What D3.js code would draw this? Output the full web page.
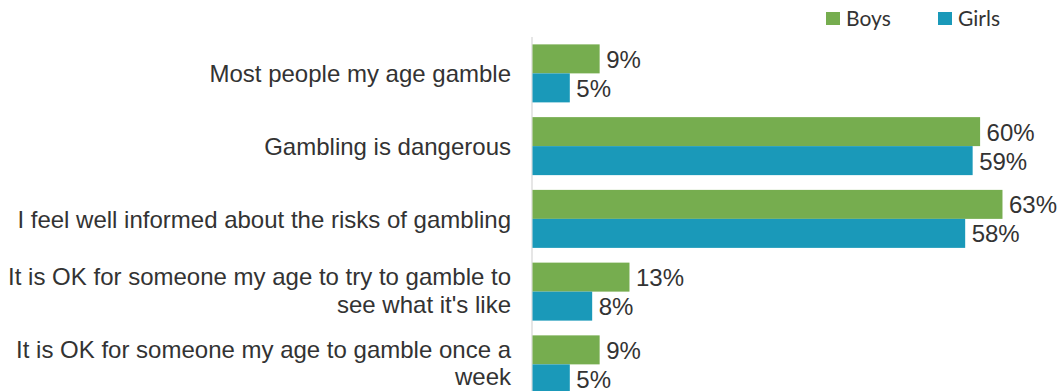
<!DOCTYPE html>
<html>
<head>
<meta charset="utf-8">
<script src="https://cdn.jsdelivr.net/npm/d3@7"></script>
<style>
  html, body { margin: 0; padding: 0; background: #fff; }
  svg { display: block; }
</style>
</head>
<body>
<svg id="chart" width="1061" height="391"></svg>
<script>
const categories = [
  "Most people my age gamble",
  "Gambling is dangerous",
  "I feel well informed about the risks of gambling",
  "It is OK for someone my age to try to gamble to see what it's like",
  "It is OK for someone my age to gamble once a week"
];
const seriesNames = ["Boys", "Girls"];
const boys = [9, 60, 63, 13, 9];
const girls = [5, 59, 58, 8, 5];
const colors = ["#76AD4F", "#1A99B9"];

const svg = d3.select("#chart");
const textColor = "#333333";
const font = "'Liberation Sans', Arial, sans-serif";

const x = d3.scaleLinear().domain([0, 70]).range([532, 532 + 70 * 7.46]);
const y = d3.scaleBand().domain(categories).range([37, 37 + 5 * 72.75])
  .paddingInner(0.2027).paddingOuter(0.1014);
const sub = d3.scaleBand().domain(seriesNames).range([0, y.bandwidth()]);

const series = [boys, girls];

// axis line
svg.append("line")
  .attr("x1", x(0)).attr("x2", x(0))
  .attr("y1", 37).attr("y2", 400)
  .attr("stroke", "#d9d9d9").attr("stroke-width", 1.3);

const groups = svg.selectAll("g.grp").data(categories).join("g")
  .attr("class", "grp")
  .attr("transform", d => `translate(0,${y(d)})`);

seriesNames.forEach((s, si) => {
  groups.append("rect")
    .attr("x", x(0) + 0.5)
    .attr("y", sub(s))
    .attr("width", (d, i) => x(series[si][i]) - x(0))
    .attr("height", sub.bandwidth())
    .attr("fill", colors[si]);
  groups.append("text")
    .attr("x", (d, i) => x(series[si][i]) + 7)
    .attr("y", sub(s) + sub.bandwidth() / 2)
    .attr("dy", "0.38em")
    .attr("font-family", font)
    .attr("font-size", 24)
    .attr("fill", textColor)
    .text((d, i) => series[si][i] + "%");
});

// category labels (wrapped)
const maxW = 512;
const lineH = 27.5;
groups.each(function(d) {
  const g = d3.select(this);
  const t = g.append("text")
    .attr("text-anchor", "end")
    .attr("font-family", font)
    .attr("font-size", 24)
    .attr("fill", textColor);
  const words = d.split(" ");
  const lines = [];
  let cur = [];
  const probe = t.append("tspan");
  words.forEach(w => {
    const test = cur.concat([w]).join(" ");
    probe.text(test);
    if (probe.node().getComputedTextLength() > maxW && cur.length) {
      lines.push(cur.join(" "));
      cur = [w];
    } else cur.push(w);
  });
  lines.push(cur.join(" "));
  probe.remove();
  const cy = y.bandwidth() / 2;
  const startY = cy - (lines.length - 1) * lineH / 2;
  const dy = lines.length > 1 ? "0.3em" : "0.36em";
  lines.forEach((l, i) => {
    t.append("tspan")
      .attr("x", 511)
      .attr("y", startY + i * lineH)
      .attr("dy", dy)
      .text(l);
  });
});

// legend
const legendX = [826, 938];
seriesNames.forEach((s, i) => {
  svg.append("rect")
    .attr("x", legendX[i]).attr("y", 12)
    .attr("width", 14).attr("height", 13)
    .attr("fill", colors[i]);
  svg.append("text")
    .attr("x", legendX[i] + 20).attr("y", 18.5)
    .attr("dy", "0.36em")
    .attr("font-family", "Lato, 'Open Sans', sans-serif")
    .attr("font-size", 21)
    .attr("fill", textColor)
    .text(s);
});
</script>
</body>
</html>
